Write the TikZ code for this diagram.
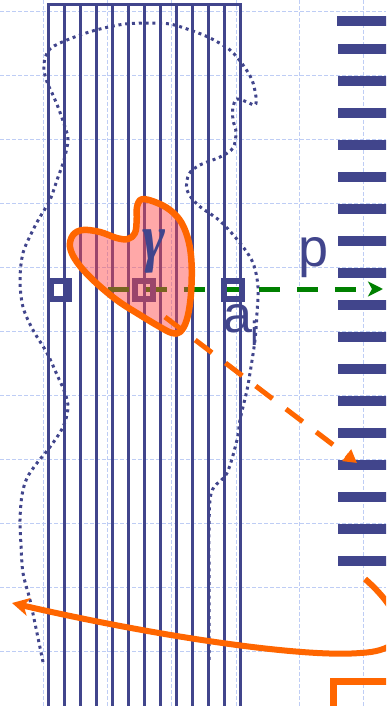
\documentclass[tikz,border=0pt]{standalone}
\usepackage{fontspec}
\setmainfont{Liberation Sans}
\newfontfamily\gfont{Liberation Serif}
\usetikzlibrary{arrows.meta}
\definecolor{dblue}{RGB}{65,69,140}
\definecolor{gridc}{RGB}{190,205,245}
\definecolor{orng}{RGB}{255,102,0}
\definecolor{grn}{RGB}{0,128,0}
\definecolor{blobfill}{RGB}{255,70,70}
\tikzset{
  gridline/.style={gridc, line width=0.9pt, dash pattern=on 4pt off 2pt},
  vline/.style={dblue, line width=3.2pt},
  combbar/.style={fill=dblue},
  dotline/.style={dblue, line width=3pt, dash pattern=on 3pt off 3.8pt},
  sqbox/.style={draw=dblue, line width=6pt, minimum size=18pt, inner sep=0pt},
  lbl/.style={text=dblue, inner sep=0pt},
}
\begin{document}
\begin{tikzpicture}[x=1pt,y=-1pt]
\useasboundingbox (0,0) rectangle (386,706);
\begin{scope}
\clip (0,0) rectangle (386,706);
% faint grid
\foreach \x in {43,107,171.5,236,299.5,363.5} \draw[gridline] (\x,0) -- (\x,706);
\foreach \y in {11,75,139,203,267,331,395,459,523,587,651} \draw[gridline] (0,\y) -- (386,\y);
% vertical line bundle
\draw[vline, line join=miter] (48.3,712) -- (48.3,4.5) -- (240.3,4.5) -- (240.3,712);
\foreach \i in {1,...,11} \draw[vline] (48.3+16*\i,4.5) -- (48.3+16*\i,712);
% comb on the right
\fill[combbar] (337,16) rectangle (390,26);
\foreach \k in {0,...,16} \fill[combbar] (338,44+32*\k) rectangle (390,54+32*\k);
% dotted outline
\draw[dotline] plot[smooth, tension=0.55] coordinates {
(43,662) (37,633) (30,600) (23,573) (21,545) (20,520) (22,495) (27,478) (37,463)
(50,447) (63,427) (68,408) (65,393) (58,377) (47,353) (33,330) (23,307) (20,280)
(23,253) (33,230) (40,217) (50,200) (57,180) (64,160) (68,140) (65,127) (58,107)
(52,93) (47,82) (44,70) (45,58) (50,49) (60,43) (80,35) (100,29) (125,24) (150,23)
(170,24) (190,30) (210,38) (230,50) (243,65) (252,80) (256,97) (255,105) (247,102)
(237,99) (233,107) (233,120) (236,132) (233,148) (220,157) (200,165) (189,174)
(187,190) (198,205) (220,221) (240,243) (253,263) (258,287) (257,313) (255,340)
(250,373) (247,390) (240,420) (237,440) (227,473) (214,487) (210,500) (209,530)
(209,560) (209,600) (209,662)};
% green dashed arrow
\coordinate (gs) at (108,289);
\coordinate (ge) at (383,289);
\draw[grn, line width=5pt, dash pattern=on 21pt off 16.8pt, -{Stealth[length=15pt,width=15pt,inset=4pt]}] (gs) -- (ge);
% squares
\node[sqbox] (sq1) at (60,290) {};
\node[sqbox] (sq2) at (144,290) {};
\node[sqbox] (sq3) at (232.5,290) {};
% blob
\draw[orng, line width=6.5pt, fill=blobfill, fill opacity=0.47, line join=round]
 plot[smooth cycle, tension=0.6] coordinates {
(141.7,199.3) (155,202) (170,210) (181.7,223) (189,243) (191.7,267) (190.7,297)
(186.7,320) (180,332) (172,333) (160,327) (140,315) (116.7,300) (93,280) (76.7,261.7)
(70,247) (73,235) (83,230) (100,232) (116.7,238) (128,239) (135,233) (136.7,220)
(137,207)};
\node[lbl, xscale=0.85] (gam) at (154,251) {\fontsize{65}{65}\selectfont\gfont\bfseries\itshape γ};
% orange dashed arrow
\coordinate (os) at (165,317);
\coordinate (oe) at (357,463);
\draw[orng, line width=5pt, dash pattern=on 21pt off 17pt, -{Triangle[length=13pt,width=14pt]}] (os) -- (oe);
% orange curved arrow
\coordinate (cs) at (365,579);
\coordinate (cm) at (360,653);
\coordinate (ce) at (12,603);
\draw[orng, line width=6pt, -{Stealth[length=17pt,width=18pt,inset=5pt]}]
 (cs) .. controls (395,605) and (425,650) .. (cm) .. controls (300,658) and (150,635) .. (ce);
% orange bracket
\draw[orng, line width=7pt, line join=miter] (333.5,712) -- (333.5,681) -- (392,681);
% labels
\node[lbl, anchor=base west] (p) at (298.5,266) {\fontsize{54}{54}\selectfont p};
\node[lbl, anchor=base west] (a) at (223,332) {\fontsize{52}{52}\selectfont a};
\node[lbl, anchor=base west] (ai) at (250.5,345) {\fontsize{34}{34}\selectfont i};
\end{scope}
\end{tikzpicture}
\end{document}
